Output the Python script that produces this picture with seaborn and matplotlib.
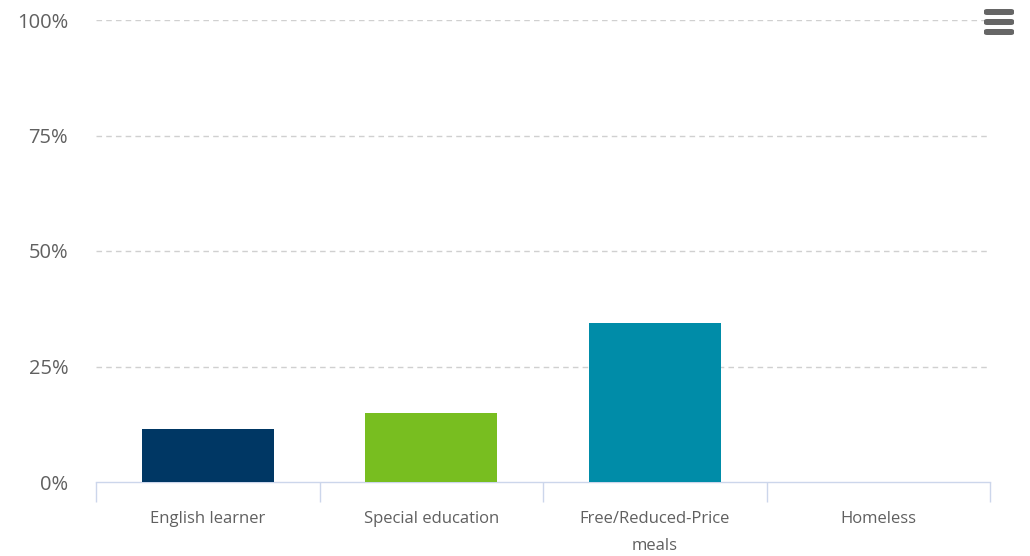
import matplotlib
matplotlib.use("Agg")
import matplotlib.pyplot as plt
import seaborn as sns
import pandas as pd
from matplotlib.patches import FancyBboxPatch

categories = ["English learner", "Special education", "Free/Reduced-Price\nmeals", "Homeless"]
values = [11.5, 14.9, 34.4, 0.0]
colors = ["#003764", "#78be20", "#008ca8", "#7c7c7c"]
yticks = [0, 25, 50, 75, 100]
ytick_labels = ["0%", "25%", "50%", "75%", "100%"]

sns.set_theme(style="white")
plt.rcParams["font.family"] = ["Open Sans", "DejaVu Sans"]

df = pd.DataFrame({"cat": categories, "val": values})

fig = plt.figure(figsize=(10.3, 5.56), dpi=100)
ax = fig.add_axes([96/1030, 1-482/556, (990-96)/1030, (482-20)/556])

sns.barplot(data=df, x="cat", y="val", hue="cat", palette=colors, legend=False,
            width=0.59, saturation=1, ax=ax, zorder=3, edgecolor="none")

ax.set_xlim(-0.5, 3.5)
ax.set_ylim(0, 100)
ax.set_yticks(yticks)
ax.set_yticklabels(ytick_labels)
ax.set_xlabel("")
ax.set_ylabel("")

for y in yticks[1:]:
    ax.axhline(y, color="#d0d0d0", lw=1, ls=(0, (4, 3)), zorder=1)

for s in ["top", "right", "left"]:
    ax.spines[s].set_visible(False)
ax.spines["bottom"].set_color("#ccd6eb")
ax.spines["bottom"].set_linewidth(1)

ax.set_xticks([-0.5, 0.5, 1.5, 2.5, 3.5], minor=True)
ax.tick_params(axis="x", which="minor", length=14.5, width=1, color="#ccd6eb", bottom=True)
ax.tick_params(axis="x", which="major", length=0, pad=21, labelsize=12, labelcolor="#606060")
ax.tick_params(axis="y", length=0, pad=20, labelsize=14.5, labelcolor="#606060")
for lab in ax.get_xticklabels():
    lab.set_linespacing(1.9)
    lab.set_verticalalignment("top")

# menu icon
for yy in [12, 22, 32]:
    fig.patches.append(FancyBboxPatch((984/1030, 1-(yy+3)/556), 30/1030, 6/556,
                                      boxstyle="round,pad=0,rounding_size=0.003",
                                      transform=fig.transFigure, facecolor="#666666",
                                      edgecolor="none"))

fig.savefig("out.png", dpi=100)
